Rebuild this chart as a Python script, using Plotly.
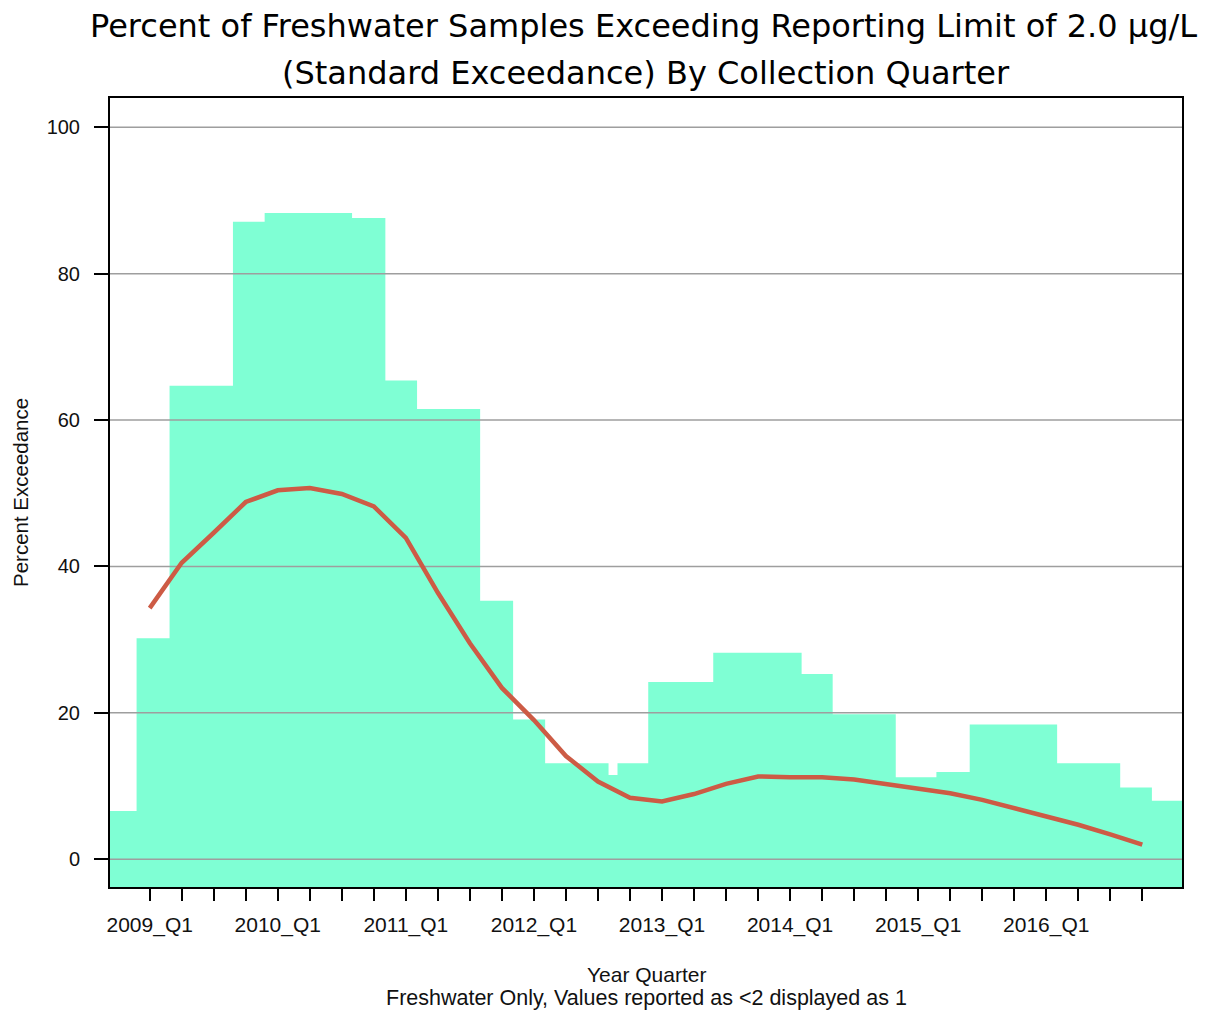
import plotly.graph_objects as go

# ---------------- data ----------------
years = [2009, 2010, 2011, 2012, 2013, 2014, 2015, 2016]
quarters = ["Q1", "Q2", "Q3", "Q4"]
quarter_labels = [f"{y}_{q}" for y in years for q in quarters]   # 32 quarters

# step (exceedance) area: edges in quarter-index units, value of each step
step_edges = [-1.24, -0.41, 0.62, 2.60, 3.59, 6.32, 7.36, 8.35, 10.32, 11.35,
              12.35, 14.33, 14.61, 15.57, 17.60, 20.36, 21.33, 23.30, 24.57,
              25.61, 28.34, 30.31, 31.30, 32.24]
step_values = [6.6, 30.2, 64.7, 87.1, 88.3, 87.6, 65.4, 61.5, 35.3, 19.1,
               13.1, 11.5, 13.1, 24.2, 28.2, 25.3, 19.8, 11.2, 11.9, 18.4,
               13.1, 9.8, 8.0]

# smoothed trend, one value per quarter
trend_values = [34.3, 40.5, 44.6, 48.8, 50.4, 50.7, 49.9, 48.2, 43.9, 36.4,
                29.5, 23.4, 19.0, 14.1, 10.6, 8.4, 7.9, 8.9, 10.3, 11.3,
                11.2, 11.2, 10.9, 10.3, 9.7, 9.0, 8.1, 7.0, 5.9, 4.7,
                3.4, 2.0]

y_ticks = [0, 20, 40, 60, 80, 100]
x_range = [-1.24, 32.24]
y_range = [-3.8, 104.0]

title_line1 = "Percent of Freshwater Samples Exceeding Reporting Limit of 2.0 μg/L"
title_line2 = "(Standard Exceedance) By Collection Quarter"
x_title = "Year Quarter"
x_subtitle = "Freshwater Only, Values reported as <2 displayed as 1"
y_title = "Percent Exceedance"

# ---------------- figure ----------------
FONT = "Liberation Sans, Arial, sans-serif"
TITLE_FONT = "DejaVu Sans, sans-serif"
fill_color = "#7FFFD4"
line_color = "#CD5B45"
grid_color = "#9E9E9E"

q_index = list(range(len(quarter_labels)))
tick_text = [lab if lab.endswith("Q1") else "" for lab in quarter_labels]

fig = go.Figure()

# baseline for the filled steps (bottom of plotting region)
fig.add_trace(go.Scatter(
    x=[step_edges[0], step_edges[-1]], y=[y_range[0], y_range[0]],
    mode="lines", line=dict(width=0, color=fill_color),
    hoverinfo="skip", showlegend=False))

# step area
fig.add_trace(go.Scatter(
    x=step_edges, y=step_values + [step_values[-1]],
    mode="lines", line=dict(width=0, color=fill_color, shape="hv"),
    fill="tonexty", fillcolor=fill_color,
    hoverinfo="skip", showlegend=False))

# horizontal grid lines drawn above the fill
gx, gy = [], []
for t in y_ticks:
    gx += [x_range[0], x_range[1], None]
    gy += [t, t, None]
fig.add_trace(go.Scatter(
    x=gx, y=gy, mode="lines", line=dict(color=grid_color, width=1.5),
    hoverinfo="skip", showlegend=False))

# smoothed trend line
fig.add_trace(go.Scatter(
    x=q_index, y=trend_values, mode="lines",
    line=dict(color=line_color, width=4.5),
    showlegend=False))

# page body has an 8px default margin, so the figure is 8px smaller
fig.update_layout(
    width=1216, height=1003, autosize=False,
    margin=dict(l=102, r=42, t=90, b=124),
    paper_bgcolor="white", plot_bgcolor="white",
    showlegend=False,
    font=dict(family=FONT, color="black"),
    xaxis=dict(
        range=x_range, tickmode="array", tickvals=q_index, ticktext=tick_text,
        ticks="outside", ticklen=12, tickwidth=1.8, tickcolor="black",
        showline=True, linewidth=2, linecolor="black", mirror=True,
        showgrid=False, zeroline=False, tickangle=0, ticklabelstandoff=6,
        tickfont=dict(family=FONT, size=21, color="#111111"),
    ),
    yaxis=dict(
        range=y_range, tickmode="array", tickvals=y_ticks,
        ticktext=[str(t) for t in y_ticks],
        ticks="outside", ticklen=14, tickwidth=1.8, tickcolor="black",
        showline=True, linewidth=2, linecolor="black", mirror=True,
        showgrid=False, zeroline=False, ticklabelstandoff=10,
        tickfont=dict(family=FONT, size=20, color="#111111"),
    ),
    annotations=[
        dict(text=title_line1, xref="paper", yref="paper", x=0.498, y=1.0915,
             xanchor="center", yanchor="middle", showarrow=False, borderpad=0,
             font=dict(family=TITLE_FONT, size=32, color="black")),
        dict(text=title_line2, xref="paper", yref="paper", x=0.5, y=1.032,
             xanchor="center", yanchor="middle", showarrow=False, borderpad=0,
             font=dict(family=TITLE_FONT, size=32, color="black")),
        dict(text=x_title, xref="paper", yref="paper", x=0.5, y=-0.1115,
             xanchor="center", yanchor="middle", showarrow=False,
             font=dict(family=FONT, size=21, color="#111111")),
        dict(text=x_subtitle, xref="paper", yref="paper", x=0.5, y=-0.1407,
             xanchor="center", yanchor="middle", showarrow=False,
             font=dict(family=FONT, size=21.5, color="#111111")),
        dict(text=y_title, xref="paper", yref="paper", x=-0.083, y=0.4994,
             xanchor="center", yanchor="middle", showarrow=False, textangle=-90,
             font=dict(family=FONT, size=20.5, color="#111111")),
    ],
)

fig.write_html("out.html")
